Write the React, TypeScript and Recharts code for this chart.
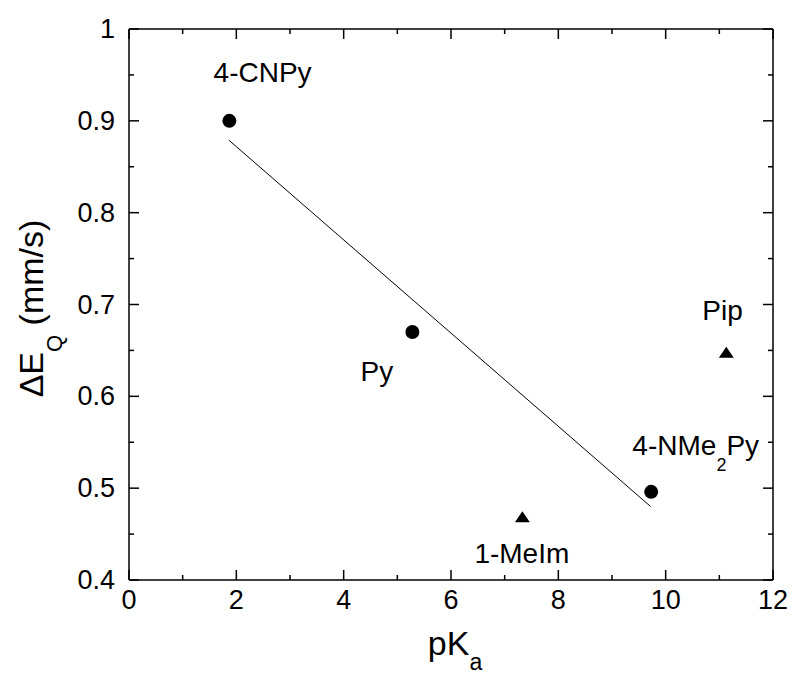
import React from 'react';
import { ScatterChart, Scatter, XAxis, YAxis } from 'recharts';

const xMajorTicks = [0, 2, 4, 6, 8, 10, 12];
const xMinorTicks = [1, 3, 5, 7, 9, 11];
const yMajorTicks = [0.4, 0.5, 0.6, 0.7, 0.8, 0.9, 1];
const yMinorTicks = [0.45, 0.55, 0.65, 0.75, 0.85, 0.95];

const pyridineLigands = [
  { x: 1.87, y: 0.9 },
  { x: 5.28, y: 0.67 },
  { x: 9.73, y: 0.496 },
];
const otherLigands = [
  { x: 7.33, y: 0.469 },
  { x: 11.13, y: 0.648 },
];
const fitLine = [
  { x: 1.86, y: 0.879 },
  { x: 9.72, y: 0.48 },
];
const pointLabels = [
  { x: 2.49, y: 0.942, text: '4-CNPy', sub: '', tail: '' },
  { x: 4.62, y: 0.617, text: 'Py', sub: '', tail: '' },
  { x: 10.56, y: 0.536, text: '4-NMe', sub: '2', tail: 'Py' },
  { x: 7.32, y: 0.419, text: '1-MeIm', sub: '', tail: '' },
  { x: 11.06, y: 0.683, text: 'Pip', sub: '', tail: '' },
];

const FONT = '"Liberation Sans", Arial, Helvetica, sans-serif';
const allX = [...xMajorTicks, ...xMinorTicks].sort((a, b) => a - b);
const allY = [...yMajorTicks, ...yMinorTicks].sort((a, b) => a - b);
const isIn = (arr: number[], v: number) => arr.some((a) => Math.abs(a - v) < 1e-9);

const MAJOR = 10;
const MINOR = 5;

const BottomTick = (props: any) => {
  const { x, y, payload } = props;
  const major = isIn(xMajorTicks, payload.value);
  return (
    <g>
      <line x1={x} y1={y} x2={x} y2={y - (major ? MAJOR : MINOR)} stroke="#000" strokeWidth={1.5} />
      {major && (
        <text x={x} y={y + 29} textAnchor="middle" fontSize={27} fontFamily={FONT} fill="#000">
          {String(payload.value)}
        </text>
      )}
    </g>
  );
};
const TopTick = (props: any) => {
  const { x, y, payload } = props;
  const major = isIn(xMajorTicks, payload.value);
  return <line x1={x} y1={y} x2={x} y2={y + (major ? MAJOR : MINOR)} stroke="#000" strokeWidth={1.5} />;
};
const LeftTick = (props: any) => {
  const { x, y, payload } = props;
  const major = isIn(yMajorTicks, payload.value);
  return (
    <g>
      <line x1={x} y1={y} x2={x + (major ? MAJOR : MINOR)} y2={y} stroke="#000" strokeWidth={1.5} />
      {major && (
        <text x={x - 14} y={y + 9} textAnchor="end" fontSize={27} fontFamily={FONT} fill="#000">
          {String(payload.value)}
        </text>
      )}
    </g>
  );
};
const RightTick = (props: any) => {
  const { x, y, payload } = props;
  const major = isIn(yMajorTicks, payload.value);
  return <line x1={x} y1={y} x2={x - (major ? MAJOR : MINOR)} y2={y} stroke="#000" strokeWidth={1.5} />;
};

const Circle = (props: any) => {
  const { cx, cy } = props;
  return <circle cx={cx} cy={cy} r={7} fill="#000" />;
};
const Triangle = (props: any) => {
  const { cx, cy } = props;
  return <polygon points={`${cx - 7.5},${cy + 5.5} ${cx + 7.5},${cy + 5.5} ${cx},${cy - 5.5}`} fill="#000" />;
};
const Nothing = () => <g />;
const TextMark = (props: any) => {
  const { cx, cy, payload } = props;
  return (
    <text x={cx} y={cy} textAnchor="middle" fontSize={28} fontFamily={FONT} fill="#000">
      {payload.text}
      {payload.sub ? (
        <tspan dy={16} fontSize={18}>
          {payload.sub}
        </tspan>
      ) : null}
      {payload.tail ? <tspan dy={-16}>{payload.tail}</tspan> : null}
    </text>
  );
};

const XLabel = (props: any) => {
  const vb = props.viewBox;
  const cx = vb.x + vb.width / 2 + 4;
  const by = vb.y + 75;
  return (
    <text x={cx} y={by} textAnchor="middle" fontSize={34} fontFamily={FONT} fill="#000">
      pK
      <tspan dy={15} fontSize={23}>
        a
      </tspan>
    </text>
  );
};
const YLabel = (props: any) => {
  const vb = props.viewBox;
  const bx = vb.x + 43;
  const cy = vb.y + vb.height / 2 + 4;
  return (
    <text
      x={bx}
      y={cy}
      textAnchor="middle"
      fontSize={34}
      fontFamily={FONT}
      fill="#000"
      transform={`rotate(-90, ${bx}, ${cy})`}
    >
      ΔE
      <tspan dy={19} fontSize={22}>
        Q
      </tspan>
      <tspan dy={-19}> (mm/s)</tspan>
    </text>
  );
};

const axisLine = { stroke: '#000', strokeWidth: 1.5 };

export default function App() {
  return (
    <div style={{ position: 'absolute', left: 0, top: 0, width: 800, height: 679, background: '#fff' }}>
      <ScatterChart width={800} height={679} margin={{ top: 28, right: 26, bottom: 0, left: 0 }}>
        <XAxis
          xAxisId="b"
          type="number"
          dataKey="x"
          orientation="bottom"
          domain={[0, 12]}
          ticks={allX}
          interval={0}
          height={99}
          tickSize={0}
          tickMargin={0}
          tickLine={false}
          axisLine={axisLine}
          tick={<BottomTick />}
          label={<XLabel />}
        />
        <XAxis
          xAxisId="t"
          type="number"
          dataKey="x"
          orientation="top"
          domain={[0, 12]}
          ticks={allX}
          interval={0}
          height={1}
          tickSize={0}
          tickMargin={0}
          tickLine={false}
          axisLine={axisLine}
          tick={<TopTick />}
        />
        <YAxis
          yAxisId="l"
          type="number"
          dataKey="y"
          orientation="left"
          domain={[0.4, 1]}
          ticks={allY}
          interval={0}
          width={129}
          tickSize={0}
          tickMargin={0}
          tickLine={false}
          axisLine={axisLine}
          tick={<LeftTick />}
          label={<YLabel />}
        />
        <YAxis
          yAxisId="r"
          type="number"
          dataKey="y"
          orientation="right"
          domain={[0.4, 1]}
          ticks={allY}
          interval={0}
          width={1}
          tickSize={0}
          tickMargin={0}
          tickLine={false}
          axisLine={axisLine}
          tick={<RightTick />}
        />
        <Scatter
          xAxisId="t"
          yAxisId="r"
          data={fitLine}
          shape={<Nothing />}
          isAnimationActive={false}
        />
        <Scatter
          xAxisId="b"
          yAxisId="l"
          data={fitLine}
          line={{ stroke: '#000', strokeWidth: 1 }}
          shape={<Nothing />}
          isAnimationActive={false}
        />
        <Scatter xAxisId="b" yAxisId="l" data={pyridineLigands} shape={<Circle />} isAnimationActive={false} />
        <Scatter xAxisId="b" yAxisId="l" data={otherLigands} shape={<Triangle />} isAnimationActive={false} />
        <Scatter xAxisId="b" yAxisId="l" data={pointLabels} shape={<TextMark />} isAnimationActive={false} />
      </ScatterChart>
    </div>
  );
}
